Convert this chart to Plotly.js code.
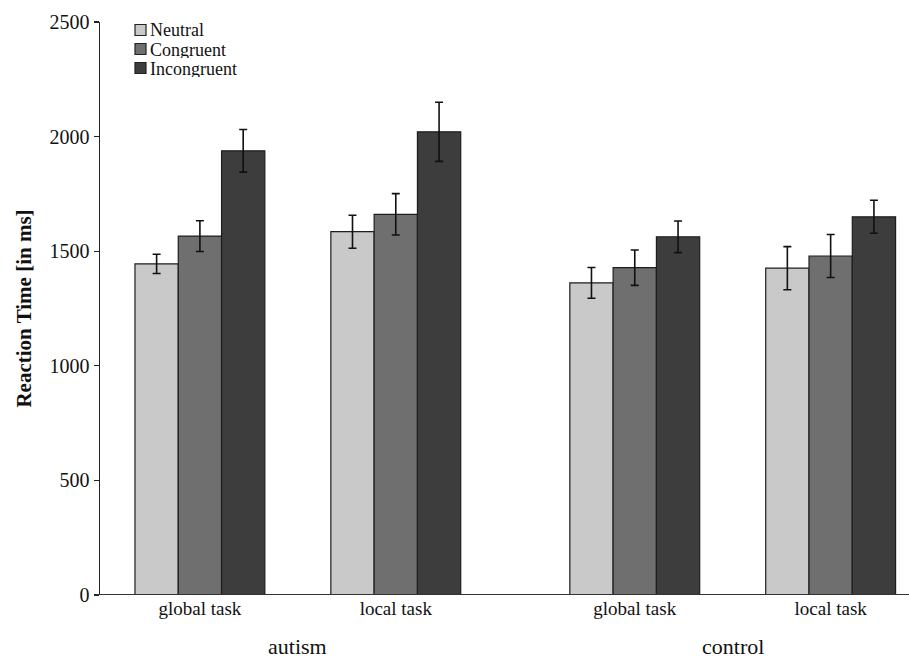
<!DOCTYPE html>
<html>
<head>
<meta charset="utf-8">
<script src="https://cdn.plot.ly/plotly-3.0.1.min.js"></script>
<style>html,body{margin:0;padding:0;background:#fff;}#chart{width:909px;height:659px;}</style>
</head>
<body>
<div id="chart"></div>
<script>
// Data
var positions = [0, 1, 2.22, 3.22];
var taskLabels = ["global task", "local task", "global task", "local task"];
var groupNames = ["autism", "control"];
var groupCenters = [0.5, 2.72];

var neutral = [1445, 1585, 1362, 1426];
var neutralErr = [42, 72, 67, 94];
var congruent = [1566, 1661, 1428, 1479];
var congruentErr = [67, 90, 77, 94];
var incongruent = [1938, 2021, 1563, 1650];
var incongruentErr = [93, 129, 69, 72];

var seriesNames = ["Neutral", "Congruent", "Incongruent"];
var seriesColors = ["#c9c9c9", "#6f6f6f", "#3d3d3d"];

var vals = [neutral, congruent, incongruent];
var errs = [neutralErr, congruentErr, incongruentErr];

var traces = seriesNames.map(function (n, i) {
  return {
    type: "bar",
    name: n,
    x: positions,
    y: vals[i],
    showlegend: false,
    marker: { color: seriesColors[i], line: { color: "#1e1e1e", width: 1.2 } },
    error_y: { type: "data", array: errs[i], visible: true, color: "#111", thickness: 1.6, width: 4 }
  };
});

var font = "Liberation Serif, Times New Roman, serif";

// compact legend: swatches plus text
var legFont = 18;
var lineH = 19;
var firstCy = 30;
var legendShapes = [];
var legendAnn = [];
seriesNames.forEach(function (n, i) {
  var cy = firstCy + i * lineH;
  var py = 1 - (cy - 22) / 573;
  var half = 5.5 / 573;
  legendShapes.push({
    type: "rect", xref: "paper", yref: "paper",
    x0: (135 - 100) / 809, x1: (146 - 100) / 809,
    y0: py - half, y1: py + half,
    fillcolor: seriesColors[i], line: { color: "#222", width: 1.2 }
  });
  legendAnn.push({
    text: n, xref: "paper", yref: "paper",
    x: (149 - 100) / 809, y: py, xanchor: "left", yanchor: "middle",
    showarrow: false, borderpad: 0, height: 17, valign: "middle",
    font: { family: font, size: legFont, color: "#111" }
  });
});

var groupAnn = groupNames.map(function (g, i) {
  return {
    text: g, x: groupCenters[i], xref: "x", y: 0, yref: "paper",
    yshift: -51, yanchor: "middle", showarrow: false,
    font: { family: font, size: 22, color: "#111" }
  };
});

var layout = {
  width: 909, height: 659,
  margin: { l: 100, r: 0, t: 22, b: 64 },
  paper_bgcolor: "#fff", plot_bgcolor: "#fff",
  barmode: "group",
  bargap: 0.337,
  bargroupgap: 0,
  font: { family: font, size: 20, color: "#111" },
  showlegend: false,
  xaxis: {
    range: [-0.51, 3.62],
    tickmode: "array",
    tickvals: positions,
    ticktext: taskLabels,
    showgrid: false, zeroline: false,
    showline: false,
    ticks: "",
    tickfont: { family: font, size: 19, color: "#111" },
    fixedrange: true
  },
  yaxis: {
    range: [0, 2500],
    tickmode: "array",
    tickvals: [0, 500, 1000, 1500, 2000, 2500],
    showgrid: false, zeroline: false,
    showline: true, linecolor: "#222", linewidth: 1.5,
    ticks: "outside", ticklen: 5, tickwidth: 1.2, tickcolor: "#222",
    tickfont: { family: font, size: 20, color: "#111" },
    title: { text: "<b>Reaction Time [in ms]</b>", font: { family: font, size: 21, color: "#111" }, standoff: 12 }
  },
  shapes: [
    { type: "line", xref: "paper", yref: "y", x0: -0.005, x1: 1, y0: 0, y1: 0, line: { color: "#333", width: 2 } }
  ].concat(legendShapes),
  annotations: groupAnn.concat(legendAnn)
};

Plotly.newPlot("chart", traces, layout, { displayModeBar: false, staticPlot: true });
</script>
</body>
</html>
